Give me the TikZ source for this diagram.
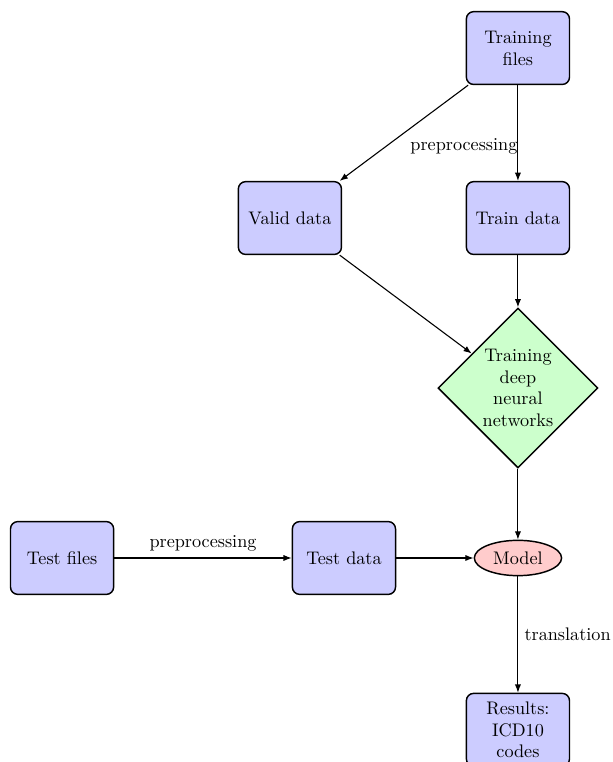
\documentclass[tikz,border=0pt]{standalone}
\usetikzlibrary{shapes.geometric, arrows.meta}
\tikzset{
  block/.style={rectangle, draw, thick, fill=blue!20, text width=5em, align=center, rounded corners, minimum height=4em},
  decision/.style={diamond, draw, thick, fill=green!20, text width=4.5em, align=center, inner sep=0pt},
  modelnode/.style={ellipse, draw, thick, fill=red!20},
  line/.style={draw, semithick, -{Latex[length=4.5pt,width=3.4pt]}},
}
\begin{document}
\begin{tikzpicture}[x=1pt,y=-1pt]
\useasboundingbox (0,0) rectangle (336.3,418.7);
\node[block] (tf) at (284.6,26.4) {Training files};
\node[block] (valid) at (159.3,119.8) {Valid data};
\node[block] (train) at (284.6,119.8) {Train data};
\node[decision] (dnn) at (284.6,213.2) {Training deep neural networks};
\node[block] (testf) at (34.1,306.6) {Test files};
\node[block] (testd) at (189.0,306.6) {Test data};
\node[modelnode] (model) at (284.6,306.6) {Model};
\node[block] (res) at (284.6,401) {Results: ICD10 codes};
\path[line] (tf) -- (valid);
\path[line] (tf) -- node[pos=0.64, anchor=east, inner sep=0pt] {preprocessing} (train);
\path[line] (valid) -- (dnn);
\path[line] (train) -- (dnn);
\path[line] (dnn) -- (model);
\path[line] (testf) -- node[midway, above] {preprocessing} (testd);
\path[line] (testd) -- (model);
\path[line] (model) -- node[midway, right] {translation} (res);
\end{tikzpicture}
\end{document}
